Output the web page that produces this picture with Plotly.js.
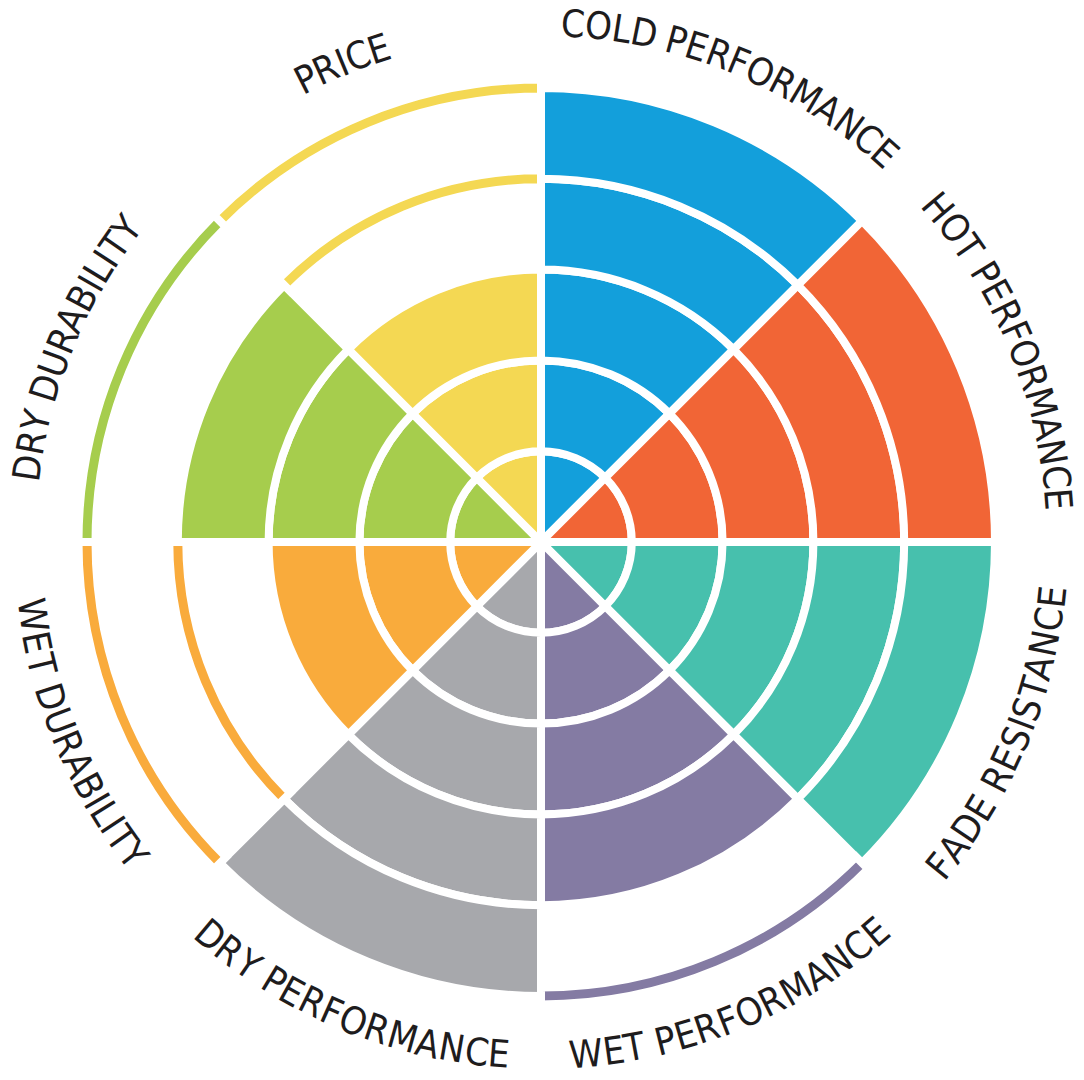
<!DOCTYPE html>
<html>
<head>
<meta charset="utf-8">
<script src="https://cdn.plot.ly/plotly-3.0.1.min.js"></script>
<style>
  html, body { margin: 0; padding: 0; background: #ffffff; }
  #chart { width: 1084px; height: 1080px; }
</style>
</head>
<body>
<div id="chart"></div>
<script>
// Attributes, clockwise from twelve o'clock
const categories = [
  'COLD PERFORMANCE', 'HOT PERFORMANCE', 'FADE RESISTANCE', 'WET PERFORMANCE',
  'DRY PERFORMANCE', 'WET DURABILITY', 'DRY DURABILITY', 'PRICE'
];
// Rating of each attribute on a 1-5 scale
const scores = [5, 5, 5, 4, 5, 3, 4, 3];
const maxScore = 5;
const colors = [
  '#139fdb', '#f16536', '#47c0ad', '#847ba3',
  '#a7a8ac', '#f9ab3c', '#a6cd4d', '#f4d853'
];

// Geometry (pixels)
const W = 1084, H = 1080;
const cx = 541, cy = 542;          // wheel centre, from top-left
const unitPx = 90.8;               // one rating step
const rRange = 5.25;               // radial axis range
const gapPx = 8;                   // white separator width
const rimPx = 9;                   // thin rim marking an unfilled step
const labelRTop = 519;             // radius of label letter centres, upper half
const labelRBottom = 514;          // radius of label letter centres, lower half
const fontSize = 38;
const fontFamily = '"DejaVu Sans Condensed", "Liberation Sans Narrow", sans-serif';

const sector = 360 / categories.length;
const thetaOf = i => sector * (i + 0.5);

const traces = [];

// Filled steps: one trace per rating level
for (let k = 1; k <= maxScore; k++) {
  const th = [], col = [];
  categories.forEach((c, i) => {
    if (scores[i] >= k) { th.push(thetaOf(i)); col.push(colors[i]); }
  });
  traces.push({
    type: 'barpolar',
    theta: th,
    r: th.map(() => 1),
    base: th.map(() => k - 1),
    width: th.map(() => sector),
    marker: { color: col, line: { color: '#ffffff', width: gapPx } },
    hoverinfo: 'skip'
  });
}

// Unfilled steps: a thin coloured rim on each step's outer edge
const half = (rimPx + gapPx) / 2 / unitPx;
const rimTh = [], rimBase = [], rimCol = [];
categories.forEach((c, i) => {
  for (let k = scores[i] + 1; k <= maxScore; k++) {
    rimTh.push(thetaOf(i));
    rimBase.push(k - half);
    rimCol.push(colors[i]);
  }
});
traces.push({
  type: 'barpolar',
  theta: rimTh,
  r: rimTh.map(() => 2 * half),
  base: rimBase,
  width: rimTh.map(() => sector),
  marker: { color: rimCol, line: { color: '#ffffff', width: gapPx } },
  hoverinfo: 'skip'
});

// Curved labels: each letter placed and rotated along the rim
const ctx = document.createElement('canvas').getContext('2d');
ctx.font = fontSize + 'px ' + fontFamily;
const annotations = [];
categories.forEach((label, i) => {
  const tc = thetaOf(i);
  const top = tc < 90 || tc > 270;      // upper half reads clockwise, lower half counter-clockwise
  const R = top ? labelRTop : labelRBottom;
  const widths = Array.from(label).map(ch => ctx.measureText(ch).width);
  const total = widths.reduce((a, b) => a + b, 0);
  let acc = 0;
  Array.from(label).forEach((ch, j) => {
    const mid = acc + widths[j] / 2;
    acc += widths[j];
    if (ch === ' ') return;
    const dDeg = (mid - total / 2) / R * 180 / Math.PI;
    const th = top ? tc + dDeg : tc - dDeg;
    const rad = th * Math.PI / 180;
    const px = cx + R * Math.sin(rad);
    const py = cy - R * Math.cos(rad);
    annotations.push({
      text: ch,
      x: px / W, y: 1 - py / H,
      xref: 'paper', yref: 'paper',
      xanchor: 'center', yanchor: 'middle',
      showarrow: false,
      borderpad: 0,
      textangle: top ? th : th - 180,
      font: { family: fontFamily, size: fontSize, color: '#1e1c1d' }
    });
  });
});

const rPx = rRange * unitPx;
const layout = {
  width: W, height: H,
  margin: { l: 0, r: 0, t: 0, b: 0 },
  paper_bgcolor: '#ffffff',
  showlegend: false,
  polar: {
    domain: {
      x: [(cx - rPx) / W, (cx + rPx) / W],
      y: [1 - (cy + rPx) / H, 1 - (cy - rPx) / H]
    },
    bgcolor: '#ffffff',
    barmode: 'overlay',
    radialaxis: { visible: false, range: [0, rRange], showgrid: false },
    angularaxis: {
      visible: false, rotation: 90, direction: 'clockwise',
      showgrid: false, showline: false, ticks: ''
    }
  },
  annotations: annotations
};

Plotly.newPlot('chart', traces, layout, { displayModeBar: false, staticPlot: true });
</script>
</body>
</html>
